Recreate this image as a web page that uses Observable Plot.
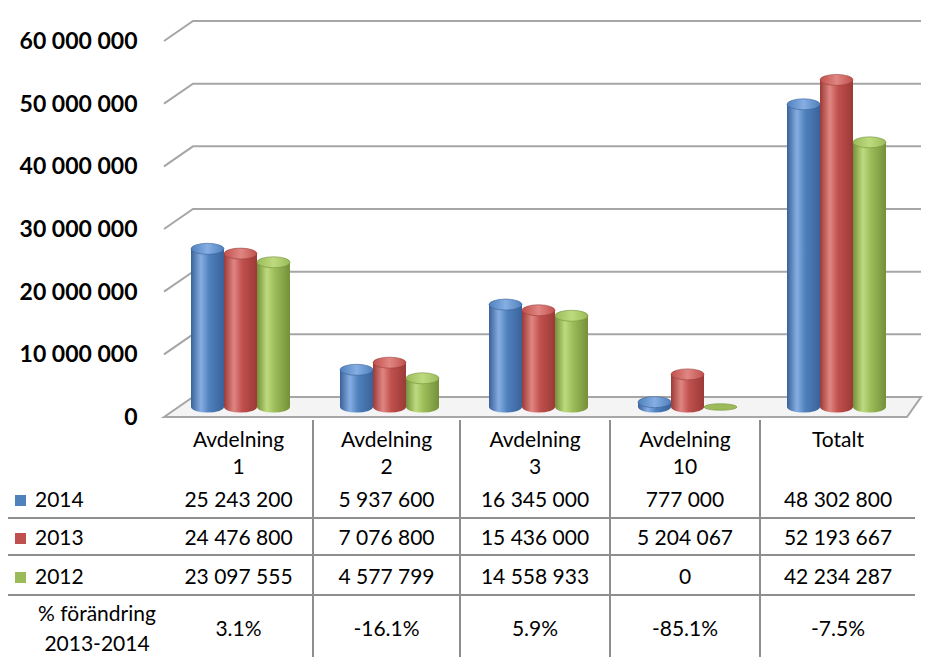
<!DOCTYPE html>
<html>
<head>
<meta charset="utf-8">
<script src="https://cdn.jsdelivr.net/npm/d3@7"></script>
<script src="https://cdn.jsdelivr.net/npm/@observablehq/plot@0.6"></script>
<style>
  body { margin: 0; background: #fff; font-family: Lato, "Open Sans", sans-serif; }
  #wrap { position: relative; width: 927px; height: 657px; overflow: hidden; }
  #chart { position: absolute; left: 0; top: 0; }
  #tbl { position: absolute; left: 8px; top: 420px; border-collapse: collapse; font-size: 21px; color: #000; table-layout: fixed; }
  #tbl td { text-align: center; padding: 0; white-space: nowrap; }
  #tbl tr.hdr td { height: 57px; line-height: 27px; vertical-align: middle; padding-top: 3px; }
  #tbl tr.r0 td { height: 37px; }
  #tbl tr.r1 td { height: 35px; }
  #tbl tr.r2 td { height: 38px; }
  #tbl tr.pct td { height: 60px; line-height: 30px; vertical-align: middle; padding-top: 2px; }
  #tbl tr.r0 td, #tbl tr.r1 td, #tbl tr.r2 td { border-bottom: 2px solid #8e8e8e; }
  #tbl td.data:not(.first) { border-left: 2px solid #8e8e8e; }
  #tbl td.leg { text-align: left; padding-left: 7px; }
  #tbl td.leg span.sw { display: inline-block; width: 11px; height: 11px; margin-right: 9px; vertical-align: 1px; }
  #tbl td.pt { padding-left: 21px; }
</style>
</head>
<body>
<div id="wrap">
  <div id="chart"></div>
  <table id="tbl"></table>
</div>
<script>
// ---------- data ----------
const categories = ["Avdelning 1", "Avdelning 2", "Avdelning 3", "Avdelning 10", "Totalt"];
const headerLines = [["Avdelning", "1"], ["Avdelning", "2"], ["Avdelning", "3"], ["Avdelning", "10"], ["Totalt", "\u00a0"]];
const years = ["2014", "2013", "2012"];
const values2014 = [25243200, 5937600, 16345000, 777000, 48302800];
const values2013 = [24476800, 7076800, 15436000, 5204067, 52193667];
const values2012 = [23097555, 4577799, 14558933, 0, 42234287];
const changeTitle = ["% förändring", "2013-2014"];
const changeLabels = ["3.1%", "-16.1%", "5.9%", "-85.1%", "-7.5%"];
const yTicks = [0, 10000000, 20000000, 30000000, 40000000, 50000000, 60000000];
const colors = ["#4F81BD", "#C0504D", "#9BBB59"];
const darks = ["#3a6299", "#9b3a37", "#74903a"];
const lights = ["#86aee3", "#e08682", "#bddb7e"];

const series = [values2014, values2013, values2012];
const data = years.flatMap((yr, i) => categories.map((c, j) => ({year: yr, cat: c, value: series[i][j], si: i})));
const fmt = d => d3.format(",")(d).replace(/,/g, " ");

// ---------- custom marks using Plot's scales ----------
function gridMark(index, scales, values, dim) {
  const g = d3.create("svg:g");
  const L = dim.marginLeft, R = dim.width - dim.marginRight;
  const dxDepth = 29, h = 10;
  const y0 = scales.y(0);
  g.append("path")
    .attr("d", `M${L},${y0 + h}L${L + dxDepth},${y0 - h}L${R + 8},${y0 - h}L${R - 6},${y0 + h}Z`)
    .attr("fill", "#f4f4f4").attr("stroke", "#a6a6a6").attr("stroke-width", 2);
  for (const v of yTicks) {
    if (v === 0) continue;
    const y = scales.y(v);
    g.append("path")
      .attr("d", `M${L},${y + h}L${L + dxDepth},${y - h}L${R + 8},${y - h}`)
      .attr("fill", "none").attr("stroke", "#a6a6a6").attr("stroke-width", 2);
  }
  return g.node();
}

function cylinderMark(index, scales, values, dim) {
  const g = d3.create("svg:g");
  const defs = g.append("defs");
  colors.forEach((c, i) => {
    const lg = defs.append("linearGradient").attr("id", "cyl" + i).attr("x1", 0).attr("x2", 1).attr("y1", 0).attr("y2", 0);
    lg.append("stop").attr("offset", "0%").attr("stop-color", darks[i]);
    lg.append("stop").attr("offset", "30%").attr("stop-color", lights[i]);
    lg.append("stop").attr("offset", "55%").attr("stop-color", c);
    lg.append("stop").attr("offset", "100%").attr("stop-color", darks[i]);
    const tg = defs.append("linearGradient").attr("id", "cap" + i).attr("x1", 0).attr("x2", 1).attr("y1", 0).attr("y2", 0);
    tg.append("stop").attr("offset", "0%").attr("stop-color", c);
    tg.append("stop").attr("offset", "50%").attr("stop-color", lights[i]);
    tg.append("stop").attr("offset", "100%").attr("stop-color", c);
  });
  const bw = scales.x.bandwidth ? scales.x.bandwidth() : (dim.width - dim.marginLeft - dim.marginRight) / categories.length;
  const w = 33, ry = 5.5;
  for (const d of data) {
    const cx = scales.x(d.cat) + bw / 2 + (d.si - 1) * w;
    const x0 = cx - w / 2;
    const yt = scales.y(d.value), yb = scales.y(0);
    if (d.value > 0) {
      g.append("path")
        .attr("d", `M${x0},${yt}L${x0},${yb}A${w / 2},${ry} 0 0 0 ${x0 + w},${yb}L${x0 + w},${yt}Z`)
        .attr("fill", `url(#cyl${d.si})`);
      g.append("ellipse").attr("cx", cx).attr("cy", yt).attr("rx", w / 2).attr("ry", ry)
        .attr("fill", `url(#cap${d.si})`).attr("stroke", darks[d.si]).attr("stroke-width", 0.6);
    } else {
      g.append("ellipse").attr("cx", cx).attr("cy", yb).attr("rx", w / 2).attr("ry", ry * 0.6)
        .attr("fill", colors[d.si]).attr("stroke", darks[d.si]).attr("stroke-width", 0.6);
    }
  }
  return g.node();
}

const plot = Plot.plot({
  width: 927,
  height: 420,
  marginLeft: 164,
  marginRight: 14,
  marginTop: 31,
  marginBottom: 13,
  style: {fontFamily: "Lato, 'Open Sans', sans-serif", background: "#fff", color: "#000", overflow: "visible"},
  x: {type: "band", domain: categories, padding: 0, axis: null},
  y: {domain: [0, 60000000], axis: null},
  marks: [
    gridMark,
    Plot.barY(data, {x: "cat", y: "value", fillOpacity: 0}),
    cylinderMark,
    Plot.text(yTicks, {y: d => d, text: d => fmt(d), frameAnchor: "left", textAnchor: "end",
      dx: -27, dy: 10, fontSize: 23, fontWeight: "bold", fill: "#000"})
  ]
});
document.getElementById("chart").append(plot);

// ---------- table ----------
const tbl = d3.select("#tbl");
const cg = tbl.append("colgroup");
[157, 148, 147, 150, 150, 155].forEach(w => cg.append("col").style("width", w + "px"));
const hdr = tbl.append("tr").attr("class", "hdr");
hdr.append("td");
headerLines.forEach((lines, j) => hdr.append("td").attr("class", "data" + (j === 0 ? " first" : "")).html(lines.join("<br>")));
years.forEach((yr, i) => {
  const tr = tbl.append("tr").attr("class", "r" + i);
  const lc = tr.append("td").attr("class", "leg");
  lc.append("span").attr("class", "sw").style("background", colors[i]);
  lc.append("span").text(yr);
  series[i].forEach((v, j) => tr.append("td").attr("class", "data" + (j === 0 ? " first" : "")).text(fmt(v)));
});
const pr = tbl.append("tr").attr("class", "pct");
pr.append("td").attr("class", "pt").html(changeTitle.join("<br>"));
changeLabels.forEach((t, j) => pr.append("td").attr("class", "data" + (j === 0 ? " first" : "")).text(t));
</script>
</body>
</html>
